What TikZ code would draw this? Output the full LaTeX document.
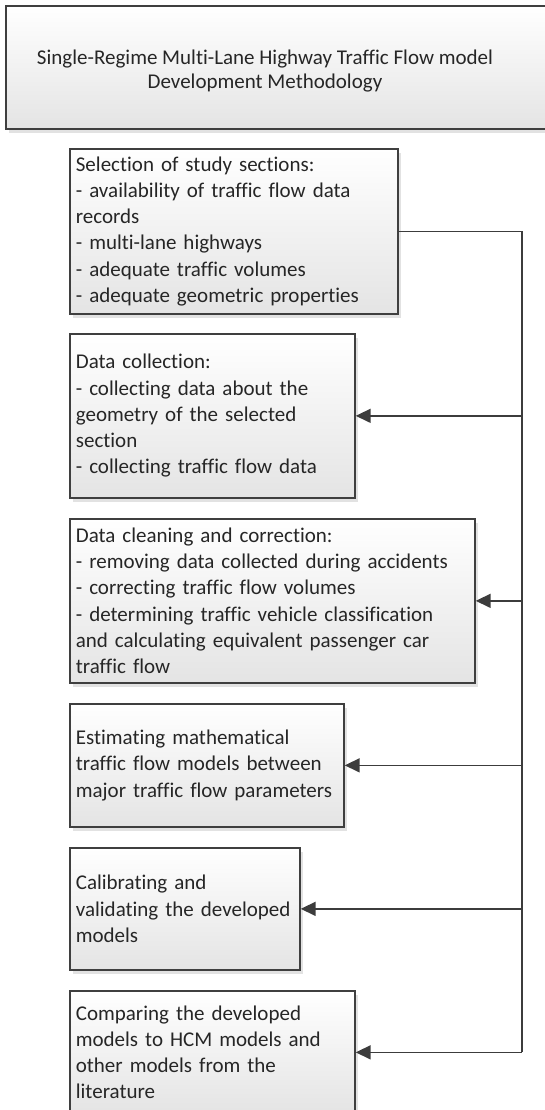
\documentclass[tikz,border=0pt]{standalone}
\usepackage{fontspec}
\setmainfont[Ligatures=NoCommon]{Carlito}
\usetikzlibrary{arrows.meta,shadows}

\definecolor{boxline}{HTML}{3F3F3F}
\definecolor{boxfill}{HTML}{E4E4E4}
\definecolor{shade}{HTML}{E2E2E2}
\definecolor{wire}{HTML}{3C3C3C}

\tikzset{
  stage/.style={draw=boxline, line width=1.7pt,
    top color=white, bottom color=boxfill,
    anchor=north west, align=left,
    inner xsep=6pt, inner ysep=0pt,
    font=\fontsize{21}{26.2}\selectfont, text=black!85,
    drop shadow={shadow xshift=3pt, shadow yshift=-4pt, fill=shade, opacity=1}},
  wireline/.style={draw=wire, line width=1.7pt},
  feed/.style={wireline, -{Triangle[length=15pt, width=14pt]}},
}

\begin{document}
\begin{tikzpicture}[x=1pt, y=-1pt]
\useasboundingbox (0,0) rectangle (545,1110);
\clip (0,0) rectangle (545,1110);

% heading box (runs past the right edge)
\node[stage, minimum width=570pt, minimum height=123pt] (head) at (5,5) {};
\node[font=\fontsize{21}{24}\selectfont, text=black!85, align=center] (headtext) at (265,71)
  {Single-Regime Multi-Lane Highway Traffic Flow model\\Development Methodology};

% process steps
\node[stage, minimum width=328pt, minimum height=165pt, text width=316pt] (s1) at (69,148)
  {Selection of study sections:\\- availability of traffic flow data\\records\\- multi-lane highways\\- adequate traffic volumes\\- adequate geometric properties};
\node[stage, minimum width=285pt, minimum height=164pt, text width=273pt] (s2) at (69,333)
  {Data collection:\\- collecting data about the\\geometry of the selected\\section\\- collecting traffic flow data};
\node[stage, minimum width=405pt, minimum height=164pt, text width=393pt] (s3) at (69,518)
  {Data cleaning and correction:\\- removing data collected during accidents\\- correcting traffic flow volumes\\- determining traffic vehicle classification\\and calculating equivalent passenger car\\traffic flow};
\node[stage, minimum width=274pt, minimum height=123pt, text width=262pt] (s4) at (69,703)
  {Estimating mathematical\\traffic flow models between\\major traffic flow parameters};
\node[stage, minimum width=230pt, minimum height=122pt, text width=218pt] (s5) at (69,847)
  {Calibrating and\\validating the developed\\models};
\node[stage, minimum width=285pt, minimum height=123pt, text width=273pt] (s6) at (69,990)
  {Comparing the developed\\models to HCM models and\\other models from the\\literature};

% distribution bus on the right
\coordinate (bus) at (522,0);
\draw[wireline] (s1.east) -- (s1.east -| bus) -- (s6.east -| bus);
\foreach \s in {s2,s3,s4,s5,s6}
  \draw[feed] (\s.east -| bus) -- (\s.east);
\end{tikzpicture}
\end{document}
